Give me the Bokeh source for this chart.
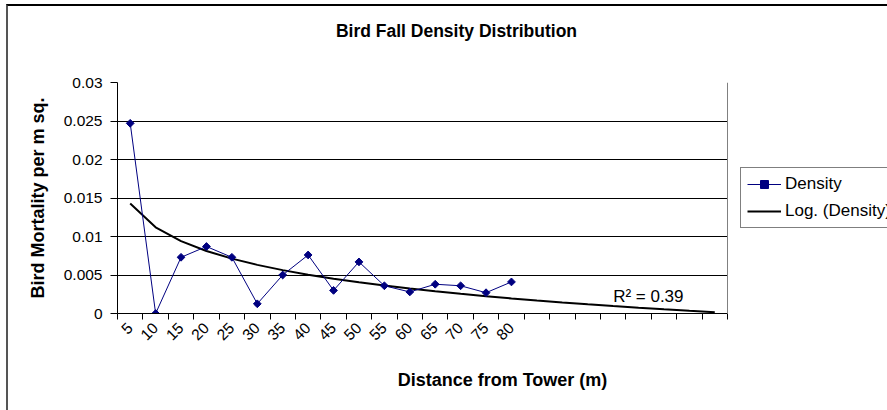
import numpy as np
from math import pi
from bokeh.plotting import figure
from bokeh.models import (Range1d, FixedTicker, Legend, LegendItem, Label, Title,
                          BoxAnnotation, Span)
from bokeh.embed import file_html
from bokeh.resources import INLINE

# ---------------- data ----------------
distance_labels = ["5", "10", "15", "20", "25", "30", "35", "40",
                   "45", "50", "55", "60", "65", "70", "75", "80"]
forecast_labels = ["85", "90", "95", "100", "105", "110", "115", "120"]
density = [0.0247, 0.0, 0.0073, 0.0087, 0.0073, 0.00126, 0.0050, 0.0076,
           0.0030, 0.0067, 0.0036, 0.0028, 0.0038, 0.0036, 0.0027, 0.0041]
y_ticks = [0, 0.005, 0.01, 0.015, 0.02, 0.025, 0.03]
y_tick_labels = ["0", "0.005", "0.01", "0.015", "0.02", "0.025", "0.03"]

title_text = "Bird Fall Density Distribution"
x_title = "Distance from Tower (m)"
y_title = "Bird Mortality per m sq."
series_name = "Density"
trend_name = "Log. (Density)"

FONT = "Liberation Sans"
NAVY = "#000080"

# layout constants (pixels)
W, H = 887, 410
PLOT_LEFT, PLOT_RIGHT, PLOT_TOP, PLOT_BOTTOM = 117, 727, 82, 313

# ---------------- category positions (Excel category axis) ----------------
all_cats = distance_labels + forecast_labels
n = len(distance_labels)
n_all = len(all_cats)
pos_data = np.arange(n) + 0.5          # centres of the data categories
pos_all = np.arange(n_all) + 0.5       # centres incl. forecast categories
edges = list(range(n_all + 1))
x_end = n_all * (W - PLOT_LEFT) / (PLOT_RIGHT - PLOT_LEFT)

# ---------------- logarithmic trend (Excel style, x = 1..n) ----------------
y = np.array(density)
idx = np.arange(1, n + 1)
a, b = np.polyfit(np.log(idx), y, 1)
trend = a * np.log(np.arange(1, n_all + 1)) + b
pred = a * np.log(idx) + b
r2 = 1 - np.sum((y - pred) ** 2) / np.sum((y - y.mean()) ** 2)

# ---------------- figure ----------------
p = figure(width=W, height=H, title=None,
           x_range=Range1d(0, x_end),
           y_range=Range1d(0, 0.03),
           output_backend="svg", toolbar_location=None,
           min_border_left=PLOT_LEFT, min_border_right=0,
           min_border_top=PLOT_TOP, min_border_bottom=H - PLOT_BOTTOM)
p.background_fill_color = "white"
p.border_fill_color = "white"
p.outline_line_color = None
p.xgrid.visible = False

# title: spacer closest to the plot, then the title itself
p.add_layout(Title(text=" ", text_font_size="1px", standoff=37), "above")
p.add_layout(Title(text=title_text, text_font=FONT, text_font_size="17.5px",
                   text_font_style="bold", text_color="black",
                   align="center", vertical_align="top", standoff=0,
                   padding=dict(left=0, right=92, top=0, bottom=0)), "above")

# y axis
yax = p.yaxis[0]
yax.ticker = FixedTicker(ticks=y_ticks, minor_ticks=[])
yax.major_label_overrides = {t: s for t, s in zip(y_ticks, y_tick_labels)}
yax.major_tick_out = 7
yax.major_tick_in = 0
yax.minor_tick_out = 0
yax.minor_tick_in = 0
yax.axis_line_color = "black"
yax.major_tick_line_color = "black"
yax.major_label_text_font = FONT
yax.major_label_text_font_size = "15.5px"
yax.major_label_text_color = "black"
yax.major_label_standoff = 8
yax.axis_label = y_title
yax.axis_label_text_font = FONT
yax.axis_label_text_font_size = "18px"
yax.axis_label_text_font_style = "bold"
yax.axis_label_text_color = "black"
yax.axis_label_standoff = 13

p.ygrid.grid_line_color = "black"
p.ygrid.grid_line_width = 1

# x axis: ticks at category edges, labels at category centres
xax = p.xaxis[0]
xax.bounds = (0, n_all)
xax.ticker = FixedTicker(ticks=list(pos_data), minor_ticks=edges)
xax.major_label_overrides = {float(c): s for c, s in zip(pos_data, distance_labels)}
xax.major_tick_out = 0
xax.major_tick_in = 0
xax.minor_tick_out = 6
xax.minor_tick_in = 0
xax.minor_tick_line_color = "black"
xax.axis_line_color = "black"
xax.major_label_orientation = pi / 4
xax.major_label_text_font = FONT
xax.major_label_text_font_size = "15.5px"
xax.major_label_text_color = "black"
xax.major_label_standoff = 6
xax.axis_label = x_title
xax.axis_label_text_font = FONT
xax.axis_label_text_font_size = "18px"
xax.axis_label_text_font_style = "bold"
xax.axis_label_text_color = "black"
xax.axis_label_standoff = 22

# ---------------- glyphs ----------------
trend_r = p.line(x=pos_all, y=trend, line_color="black", line_width=2)
line_r = p.line(x=pos_data, y=density, line_color=NAVY, line_width=1)
pts_r = p.scatter(x=pos_data, y=density, marker="square", angle=pi / 4, size=5.5,
                  fill_color=NAVY, line_color=NAVY)

# area right of the plot area (chart background) and plot-area border
p.add_layout(BoxAnnotation(left=n_all, fill_color="white", fill_alpha=1,
                           line_alpha=0))
p.add_layout(Span(location=n_all, dimension="height", line_color="#808080",
                  line_width=1))

# R squared label
p.add_layout(Label(x=19.5, y=0.00225,
                   text=f"R\u00b2 = {r2:.2f}", text_font=FONT,
                   text_font_size="17px", text_color="black",
                   text_baseline="alphabetic", text_align="left"))

# legend (partly cut by the picture's edge as in the original)
legend = Legend(items=[LegendItem(label=series_name, renderers=[line_r, pts_r]),
                       LegendItem(label=trend_name, renderers=[trend_r])],
                location=(623, 85), orientation="vertical",
                margin=0, padding=6, spacing=7,
                glyph_width=34, glyph_height=20, label_height=20,
                label_standoff=4,
                label_text_font=FONT, label_text_font_size="17px",
                label_text_color="black",
                border_line_color="black", border_line_width=1,
                background_fill_color="white", background_fill_alpha=1)
p.add_layout(legend)

html = file_html(p, INLINE)
css = ("<style>html,body{margin:0;padding:0;overflow:hidden;}"
       "body::after{content:'';position:fixed;left:6px;top:4px;right:-10px;bottom:-10px;"
       "border-top:2px solid #000;border-left:2px solid #555;pointer-events:none;z-index:1000;}"
       "</style></head>")
html = html.replace("</head>", css, 1)
open("out.html", "w").write(html)
